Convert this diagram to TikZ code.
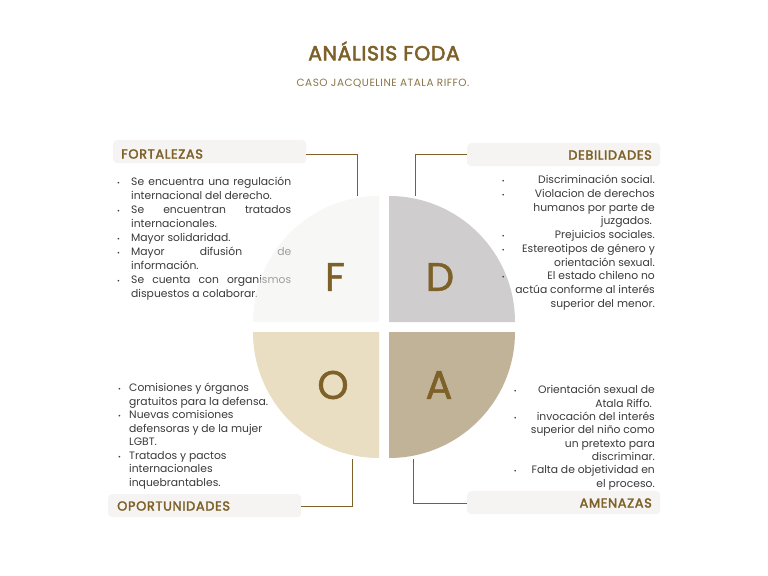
\documentclass[tikz,border=0pt]{standalone}
\usepackage{fontspec}
\setmainfont{Poppins}
\newfontfamily\popsb[FakeBold=2.5]{Poppins}
\newfontfamily\popmed[FakeBold=1.2]{Poppins}
\definecolor{brown}{HTML}{7D6128}
\definecolor{subbrown}{HTML}{8C7546}
\definecolor{quadF}{HTML}{F2F1EF}
\definecolor{quadD}{HTML}{CFCDCD}
\definecolor{quadO}{HTML}{E9DDC2}
\definecolor{quadA}{HTML}{C1B397}
\definecolor{headfill}{HTML}{F5F4F2}
\definecolor{bodytxt}{HTML}{3A3A3A}
\newcommand\bul{{\fontsize{7}{7}\selectfont •}}
\newcommand\fjust[1]{\makebox[160bp][s]{#1}}
\newcommand\fleft[1]{\makebox[160bp][l]{#1}}
\begin{document}
\begin{tikzpicture}[x=1bp,y=-1bp,
  headbox/.style={fill=headfill,rounded corners=4bp,minimum width=193bp,minimum height=23bp,inner sep=0pt},
  headtxt/.style={text=brown,font=\fontsize{13}{13}\popsb\addfontfeatures{LetterSpace=5},inner sep=0pt},
  body/.style={text=bodytxt,inner sep=0pt,align=left},
  letter/.style={text=brown,font=\fontsize{40}{40}\popmed,inner sep=0pt},
  conn/.style={draw=brown,line width=0.8bp}]
\useasboundingbox[fill=white] (0,0) rectangle (768,576);

% title
\node[text=brown,font=\fontsize{20.5}{21}\popsb\addfontfeatures{LetterSpace=3},inner sep=0pt] (title) at (384,51) {ANÁLISIS FODA};
\node[text=subbrown,font=\fontsize{10.5}{11}\selectfont\addfontfeatures{LetterSpace=5},inner sep=0pt] (subtitle) at (383,83) {CASO JACQUELINE ATALA RIFFO.};

% quadrants (D, O, A)
\fill[quadD] (389,322) -- (389,196) arc[start angle=270,end angle=360,radius=126] -- cycle;
\fill[quadO] (379,332) -- (253,332) arc[start angle=180,end angle=90,radius=126] -- cycle;
\fill[quadA] (389,332) -- (515,332) arc[start angle=0,end angle=90,radius=126] -- cycle;
\coordinate (fq) at (357,196);
\coordinate (dq) at (415,196);
\coordinate (oq) at (352,459);
\coordinate (aq) at (413,459);

% heading boxes
\node[headbox,anchor=north west] (fort) at (113,140) {};
\node[headtxt,anchor=west] (fortt) at (121,154) {FORTALEZAS};
\node[headbox,anchor=north west] (debi) at (467,143) {};
\node[headtxt,anchor=east] (debit) at (652,155) {DEBILIDADES};
\node[headbox,anchor=north west] (opor) at (108,494) {};
\node[headtxt,anchor=west] (oport) at (117,506) {OPORTUNIDADES};
\node[headbox,anchor=north west] (amen) at (467,491) {};
\node[headtxt,anchor=east] (ament) at (652,503) {AMENAZAS};

% connectors
\draw[conn] (fort.east |- 0,154) -| (fq);
\draw[conn] (debi.west |- 0,154) -| (dq);
\draw[conn] (opor.east |- 0,506) -| (oq);
\draw[conn] (amen.west |- 0,503) -| (aq);

% FORTALEZAS text
\node[body,font=\fontsize{10.8}{14}\selectfont,anchor=north west] (ftxt) at (117,177) {%
\makebox[14bp][l]{\bul}\fjust{Se encuentra una regulación}\\
\makebox[14bp][l]{}\fleft{internacional del derecho.}\\
\makebox[14bp][l]{\bul}\fjust{Se encuentran tratados}\\
\makebox[14bp][l]{}\fleft{internacionales.}\\
\makebox[14bp][l]{\bul}\fleft{Mayor solidaridad.}\\
\makebox[14bp][l]{\bul}\fjust{Mayor difusión de}\\
\makebox[14bp][l]{}\fleft{información.}\\
\makebox[14bp][l]{\bul}\fjust{Se cuenta con organismos}\\
\makebox[14bp][l]{}\fleft{dispuestos a colaborar.}};

% DEBILIDADES text
\node[body,font=\fontsize{10.8}{13.8}\selectfont,anchor=north east] (dtxt) at (655,175) {%
\makebox[8bp][l]{\bul}\makebox[145bp][r]{Discriminación social.}\\
\makebox[8bp][l]{\bul}\makebox[145bp][r]{Violacion de derechos}\\
\makebox[8bp][l]{}\makebox[145bp][r]{humanos por parte de}\\
\makebox[8bp][l]{}\makebox[145bp][r]{juzgados.\ }\\
\makebox[8bp][l]{\bul}\makebox[145bp][r]{Prejuicios sociales.}\\
\makebox[8bp][l]{\bul}\makebox[145bp][r]{Estereotipos de género y}\\
\makebox[8bp][l]{}\makebox[145bp][r]{orientación sexual.}\\
\makebox[8bp][l]{\bul}\makebox[145bp][r]{El estado chileno no}\\
\makebox[8bp][l]{}\makebox[145bp][r]{actúa conforme al interés}\\
\makebox[8bp][l]{}\makebox[145bp][r]{superior del menor.}};

% OPORTUNIDADES text
\node[body,font=\fontsize{10.8}{13.6}\selectfont,anchor=north west] (otxt) at (118,383) {%
\makebox[11bp][l]{\bul}Comisiones y órganos\\
\makebox[11bp][l]{}gratuitos para la defensa.\\
\makebox[11bp][l]{\bul}Nuevas comisiones\\
\makebox[11bp][l]{}defensoras y de la mujer\\
\makebox[11bp][l]{}LGBT.\\
\makebox[11bp][l]{\bul}Tratados y pactos\\
\makebox[11bp][l]{}internacionales\\
\makebox[11bp][l]{}inquebrantables.};

% AMENAZAS text
\node[body,font=\fontsize{10.8}{13.4}\selectfont,anchor=north east] (atxt) at (655,385) {%
\makebox[8bp][l]{\bul}\makebox[133bp][r]{Orientación sexual de}\\
\makebox[8bp][l]{}\makebox[133bp][r]{Atala Riffo.\ }\\
\makebox[8bp][l]{\bul}\makebox[133bp][r]{invocación del interés}\\
\makebox[8bp][l]{}\makebox[133bp][r]{superior del niño como}\\
\makebox[8bp][l]{}\makebox[133bp][r]{un pretexto para}\\
\makebox[8bp][l]{}\makebox[133bp][r]{discriminar.}\\
\makebox[8bp][l]{\bul}\makebox[133bp][r]{Falta de objetividad en}\\
\makebox[8bp][l]{}\makebox[133bp][r]{el proceso.}};

% F quadrant drawn over text, semi-transparent
\fill[quadF,fill opacity=0.55] (379,322) -- (253,322) arc[start angle=180,end angle=270,radius=126] -- cycle;

% letters
\node[letter] (lf) at (335,277) {F};
\node[letter] (ld) at (440,277) {D};
\node[letter] (lo) at (333,385) {O};
\node[letter] (la) at (439,385) {A};
\end{tikzpicture}
\end{document}
